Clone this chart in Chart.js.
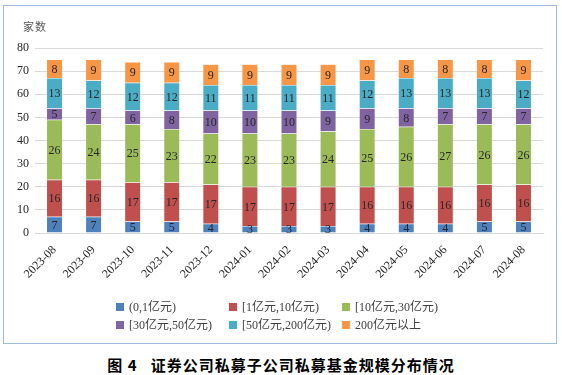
<!DOCTYPE html>
<html><head><meta charset="utf-8">
<script src="https://cdn.jsdelivr.net/npm/chart.js@4"></script>
<style>
html,body{margin:0;padding:0;background:#fff;width:562px;height:375px;overflow:hidden;}
#box{position:absolute;left:3px;top:5px;width:552px;height:337px;border:1px solid #9DBCE0;box-sizing:content-box;}
#cv{position:absolute;left:0;top:0;}
#ylab{position:absolute;left:19px;top:12px;font:11px "Noto Sans CJK SC";color:#595959;letter-spacing:1px;}
#legend{position:absolute;left:112px;top:291px;width:360px;font:12px "Liberation Serif","Noto Sans CJK SC";color:#404040;}
.li{position:absolute;white-space:nowrap;}
.sw{display:inline-block;width:8px;height:8px;margin-right:5px;vertical-align:0px;}
#title{position:absolute;left:0;top:354px;width:562px;text-align:center;font:bold 15px "Noto Sans CJK SC";color:#000;letter-spacing:1px;}
</style></head>
<body>
<div id="box"><canvas id="cv" width="552" height="337"></canvas>
<div id="ylab">家数</div>
<div id="legend"></div>
</div>
<div id="title">图 4&nbsp;&nbsp;&nbsp;证券公司私募子公司私募基金规模分布情况</div>
<script>
const categories = ["2023-08","2023-09","2023-10","2023-11","2023-12","2024-01","2024-02","2024-03","2024-04","2024-05","2024-06","2024-07","2024-08"];
const seriesNames = ["(0,1亿元)","[1亿元,10亿元)","[10亿元,30亿元)","[30亿元,50亿元)","[50亿元,200亿元)","200亿元以上"];
const s0to1 = [7,7,5,5,4,3,3,3,4,4,4,5,5];
const s1to10 = [16,16,17,17,17,17,17,17,16,16,16,16,16];
const s10to30 = [26,24,25,23,22,23,23,24,25,26,27,26,26];
const s30to50 = [5,7,6,8,10,10,10,9,9,8,7,7,7];
const s50to200 = [13,12,12,12,11,11,11,11,12,13,13,13,12];
const s200plus = [8,9,9,9,9,9,9,9,9,8,8,8,9];
const yTicks = [0,10,20,30,40,50,60,70,80];
const colors = ["#4F81BD","#C0504D","#9BBB59","#8064A2","#4BACC6","#F79646"];
const seriesData = [s0to1,s1to10,s10to30,s30to50,s50to200,s200plus];

// HTML legend (3 columns grid)
const lg = document.getElementById('legend');
seriesNames.forEach((n,i)=>{
  const d=document.createElement('div');d.className='li';
  d.style.left=(i%3)*113+'px';d.style.top=Math.floor(i/3)*18+'px';
  d.innerHTML='<span class="sw" style="background:'+colors[i]+'"></span>'+n;
  lg.appendChild(d);
});

const labelPlugin = {
  id:'vlabels',
  afterDatasetsDraw(chart){
    const ctx=chart.ctx;ctx.save();
    ctx.font='12px "Liberation Serif"';ctx.fillStyle='#262626';
    ctx.textAlign='center';ctx.textBaseline='middle';
    chart.data.datasets.forEach((ds,di)=>{
      chart.getDatasetMeta(di).data.forEach((el,i)=>{
        const v=ds.data[i];
        ctx.fillText(String(v),el.x,(el.y+el.base)/2+1);
      });
    });
    ctx.restore();
  }
};

new Chart(document.getElementById('cv'),{
  type:'bar',
  data:{labels:categories,datasets:seriesData.map((d,i)=>({label:seriesNames[i],data:d,backgroundColor:colors[i],borderColor:'rgba(255,255,255,0.5)',borderWidth:0.5,barPercentage:0.41,categoryPercentage:1}))},
  options:{
    responsive:false,animation:false,
    layout:{padding:{left:0,right:13,top:42,bottom:0}},
    plugins:{legend:{display:false},tooltip:{enabled:false}},
    scales:{
      x:{stacked:true,grid:{display:false},border:{color:'#D9D9D9'},
        ticks:{minRotation:45,maxRotation:45,autoSkip:false,color:'#262626',font:{family:'Liberation Serif',size:12},padding:2},
        afterFit(s){s.height=110;}},
      y:{stacked:true,min:0,max:80,afterBuildTicks(s){s.ticks=yTicks.map(v=>({value:v}));},
        grid:{color:'#D9D9D9',drawTicks:false},border:{display:false},
        ticks:{color:'#262626',font:{family:'Liberation Serif',size:12},padding:6},
        afterFit(s){s.width=31;}}
    }
  },
  plugins:[labelPlugin]
});
</script>
</body></html>
